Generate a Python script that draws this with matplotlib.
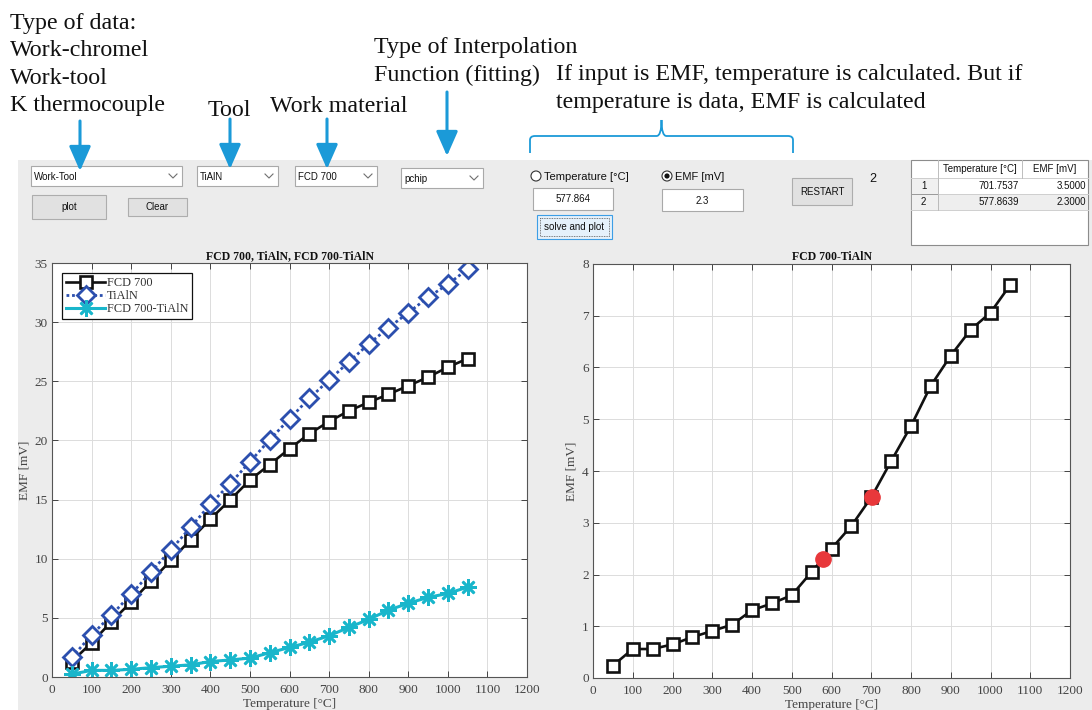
import matplotlib
matplotlib.use("Agg")
import matplotlib.pyplot as plt
from matplotlib.patches import Rectangle, Circle, PathPatch
from matplotlib.path import Path
from matplotlib.patches import ArrowStyle

# ---------------- data ----------------
temperature = [50, 100, 150, 200, 250, 300, 350, 400, 450, 500, 550,
               600, 650, 700, 750, 800, 850, 900, 950, 1000, 1050]
emf_fcd700 = [1.30, 2.90, 4.67, 6.35, 8.10, 9.85, 11.60, 13.35, 14.97, 16.65, 17.96,
              19.30, 20.56, 21.60, 22.50, 23.22, 23.90, 24.62, 25.35, 26.19, 26.92]
emf_tialn = [1.65, 3.55, 5.23, 7.00, 8.87, 10.74, 12.65, 14.60, 16.34, 18.19, 20.06,
             21.82, 23.56, 25.10, 26.64, 28.15, 29.52, 30.80, 32.09, 33.21, 34.47]
emf_pair = [0.24, 0.56, 0.56, 0.65, 0.79, 0.91, 1.03, 1.31, 1.44, 1.60, 2.05,
            2.50, 2.94, 3.49, 4.19, 4.87, 5.65, 6.23, 6.73, 7.06, 7.60]

solved_temperature = [701.7537, 577.8639]
solved_emf = [3.5, 2.3]

series_names = ["FCD 700", "TiAlN", "FCD 700-TiAlN"]
data_type = "Work-Tool"
tool_name = "TiAlN"
work_name = "FCD 700"
interp_name = "pchip"

x_ticks = list(range(0, 1201, 100))
y_ticks_left = list(range(0, 36, 5))
y_ticks_right = list(range(0, 9, 1))

# ---------------- figure ----------------
W, H = 1092, 710
fig = plt.figure(figsize=(W / 100, H / 100), dpi=100)
fig.patch.set_facecolor("white")

bg = fig.add_axes([0, 0, 1, 1], zorder=0)
bg.set_xlim(0, W)
bg.set_ylim(H, 0)
bg.axis("off")

SERIF = "Liberation Serif"
SANS = "Liberation Sans"
BLUE = "#1b9ad8"

# window panel
bg.add_patch(Rectangle((18, 160), W - 18, H - 160, facecolor="#ececec", edgecolor="none"))


def box(x0, y0, x1, y1, face="white", edge="#a9a9a9", lw=0.8, **kw):
    bg.add_patch(Rectangle((x0, y0), x1 - x0, y1 - y0, facecolor=face,
                           edgecolor=edge, linewidth=lw, **kw))


def dropdown(x0, y0, x1, y1, label):
    box(x0, y0, x1, y1)
    bg.text(x0 + 3, (y0 + y1) / 2 + 0.5, label, fontsize=7, family=SANS,
            va="center", ha="left", color="#111111")
    cx, cy = x1 - 9, (y0 + y1) / 2
    bg.plot([cx - 4, cx, cx + 4], [cy - 2, cy + 2, cy - 2], color="#707070", lw=0.8)


def button(x0, y0, x1, y1, label, face="#e1e1e1", edge="#adadad"):
    box(x0, y0, x1, y1, face=face, edge=edge)
    bg.text((x0 + x1) / 2, (y0 + y1) / 2 + 0.5, label, fontsize=7, family=SANS,
            va="center", ha="center", color="#111111")


def radio(cx, cy, label, selected):
    bg.add_patch(Circle((cx, cy), 5, facecolor="white", edgecolor="#333333", lw=0.8))
    if selected:
        bg.add_patch(Circle((cx, cy), 2.6, facecolor="#111111", edgecolor="none"))
    bg.text(cx + 8, cy + 0.5, label, fontsize=8, family=SANS, va="center",
            ha="left", color="#111111")


# ---------------- annotation text ----------------
anno = dict(fontsize=17.3, family=SERIF, color="#111111", va="baseline")
for txt, yb in zip(["Type of data:", "Work-chromel", "Work-tool", "K thermocouple"],
                   [29, 56, 84, 111]):
    bg.text(10, yb, txt, ha="left", **anno)
bg.text(208, 116, "Tool", ha="left", **anno)
bg.text(270, 112, "Work material", ha="left", **anno)
bg.text(374, 53, "Type of Interpolation", ha="left", **anno)
bg.text(374, 81, "Function (fitting)", ha="left", **anno)
bg.text(556, 80, "If input is EMF, temperature is calculated. But if", ha="left", **anno)
bg.text(556, 108, "temperature is data, EMF is calculated", ha="left", **anno)

head = ArrowStyle("-|>", head_length=0.75, head_width=0.33)
for x, y_top, y_tip in [(80, 121, 171), (230, 119, 169), (327, 119, 169), (447, 92, 156)]:
    bg.annotate("", xy=(x, y_tip), xytext=(x, y_top),
                arrowprops=dict(arrowstyle=head, color=BLUE, lw=2.2,
                                mutation_scale=20, shrinkA=0, shrinkB=0))

# curly brace over the solver controls
bx0, bx1, by, btip, bbot = 530, 793, 136, 120, 153
bmid = (bx0 + bx1) / 2
verts = [(bx0, bbot), (bx0, by + 4), (bx0, by), (bx0 + 5, by),
         (bmid - 5, by), (bmid, by), (bmid, btip),
         (bmid, by), (bmid + 5, by),
         (bx1 - 5, by), (bx1, by), (bx1, by + 4), (bx1, bbot)]
codes = [Path.MOVETO, Path.LINETO, Path.CURVE3, Path.CURVE3,
         Path.LINETO, Path.CURVE3, Path.CURVE3,
         Path.CURVE3, Path.CURVE3,
         Path.LINETO, Path.CURVE3, Path.CURVE3, Path.LINETO]
bg.add_patch(PathPatch(Path(verts, codes), facecolor="none", edgecolor=BLUE, lw=1.3))

# ---------------- GUI controls ----------------
dropdown(31, 166, 182, 186, data_type)
dropdown(197, 166, 278, 186, tool_name)
dropdown(295, 166, 377, 186, work_name)
dropdown(401, 168, 483, 188, interp_name)
button(32, 195, 106, 219, "plot")
button(128, 198, 187, 216, "Clear")

radio(536, 176, "Temperature [°C]", False)
radio(667, 176, "EMF [mV]", True)
box(533, 188, 613, 210)
bg.text(573, 199.5, f"{solved_temperature[-1]:.6g}", fontsize=7, family=SANS,
        ha="center", va="center", color="#111111")
box(662, 189, 743, 211)
bg.text(702, 200.5, f"{solved_emf[-1]:g}", fontsize=7, family=SANS,
        ha="center", va="center", color="#111111")
button(537, 215, 612, 239, "solve and plot", face="#e5f1fb", edge="#3c9ee6")
box(540, 218, 609, 236, face="none", edge="#555555", lw=0.6, linestyle=(0, (1, 1)))
button(792, 178, 852, 205, "RESTART")
bg.text(873, 179, str(len(solved_emf)), fontsize=9, family=SANS,
        ha="center", va="center", color="#111111")

# results table
tx0, tx1, ty0, ty1 = 911, 1088, 160, 245
c1, c2 = 938, 1022
r0, r1, r2 = 178, 194, 210
box(tx0, ty0, tx1, ty1, face="white", edge="#8c8c8c")
box(tx0, r1, tx1, r2, face="#eeeeee", edge="none")
box(tx0, r0, c1, r2, face="#f0f0f0", edge="#9a9a9a", lw=0.7)
for yy in (r0, r1, r2):
    bg.plot([tx0, tx1], [yy, yy], color="#cfcfcf", lw=0.7)
bg.plot([tx0, c1], [r1, r1], color="#9a9a9a", lw=0.7)
bg.plot([c1, c1], [ty0, r2], color="#bdbdbd", lw=0.7)
bg.plot([c2, c2], [ty0, r0], color="#bdbdbd", lw=0.7)
tab = dict(fontsize=7, family=SANS, va="center", color="#111111")
bg.text((c1 + c2) / 2, (ty0 + r0) / 2, "Temperature [°C]", ha="center", **tab)
bg.text((c2 + tx1) / 2, (ty0 + r0) / 2, "EMF [mV]", ha="center", **tab)
for i, (tt, ee, ya, yb_) in enumerate(zip(solved_temperature, solved_emf,
                                          (r0, r1), (r1, r2))):
    ym = (ya + yb_) / 2
    bg.text(921, ym, str(i + 1), ha="left", **tab)
    bg.text(c2 - 3, ym, f"{tt:.4f}", ha="right", **tab)
    bg.text(tx1 - 2, ym, f"{ee:.4f}", ha="right", **tab)

# ---------------- plot axes ----------------
def px_axes(x0, y0, x1, y1):
    return fig.add_axes([x0 / W, (H - y1) / H, (x1 - x0) / W, (y1 - y0) / H], zorder=2)


def style_axes(ax, yticks, ymax):
    ax.set_xlim(0, 1200)
    ax.set_ylim(0, ymax)
    ax.set_xticks(x_ticks)
    ax.set_yticks(yticks)
    ax.grid(True, color="#dcdcdc", lw=0.7)
    ax.set_axisbelow(True)
    ax.tick_params(direction="in", top=True, right=True, length=4, width=0.7,
                   colors="#444444", labelsize=9.5, pad=3)
    ax.tick_params(axis="x", pad=5)
    for lab in ax.get_xticklabels() + ax.get_yticklabels():
        lab.set_family(SERIF)
    for s in ax.spines.values():
        s.set_color("#555555")
        s.set_linewidth(0.8)
    ax.set_xlabel("Temperature [°C]", family=SERIF, fontsize=9.5, color="#444444", labelpad=1.5)
    ax.set_ylabel("EMF [mV]", family=SERIF, fontsize=9.5, color="#444444", labelpad=3)


BLACK = "#111111"
NAVY = "#2c4fae"
CYAN = "#19b6cb"

ax1 = px_axes(52, 263, 527, 677)
ax1.plot(temperature, emf_fcd700, color=BLACK, lw=1.9, marker="s", ms=8.5,
         mfc="white", mec=BLACK, mew=1.9, label=series_names[0])
ax1.plot(temperature, emf_tialn, color=NAVY, lw=2.0, ls=(0, (1, 1)), marker="D", ms=9.5,
         mfc="white", mec=NAVY, mew=2.0, label=series_names[1])
ax1.plot(temperature, emf_pair, color=CYAN, lw=2.2, marker=(8, 2, 0), ms=12,
         mec=CYAN, mew=1.9, label=series_names[2])
style_axes(ax1, y_ticks_left, 35)
ax1.set_title(", ".join(series_names), family=SERIF, fontsize=8.5,
              fontweight="bold", pad=3, color="#111111")
leg = ax1.legend(loc="upper left", prop={"family": SERIF, "size": 8.8},
                 frameon=True, fancybox=False, edgecolor="#111111",
                 borderaxespad=0.85, handlelength=3.2, handletextpad=0.15,
                 labelspacing=0.1, borderpad=0.3, framealpha=1)
leg.get_frame().set_linewidth(0.9)
for t in leg.get_texts():
    t.set_color("#333333")

ax2 = px_axes(593, 264, 1070, 678)
ax2.plot(temperature, emf_pair, color=BLACK, lw=1.9, marker="s", ms=8.5,
         mfc="white", mec=BLACK, mew=1.9)
ax2.plot(solved_temperature, solved_emf, ls="none", marker="o", ms=11,
         mfc="#e8383b", mec="#e8383b", zorder=5)
style_axes(ax2, y_ticks_right, 8)
ax2.set_title(series_names[2], family=SERIF, fontsize=8.5, fontweight="bold",
              pad=3, color="#111111")

fig.savefig("out.png", dpi=100, facecolor=fig.get_facecolor())
